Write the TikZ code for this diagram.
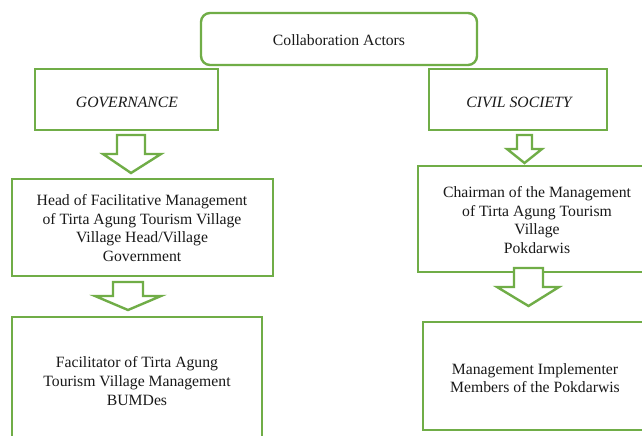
\documentclass[tikz,border=0pt]{standalone}
\usepackage{fontspec}
\setmainfont{Liberation Serif}
\definecolor{boxgreen}{HTML}{70AD47}
\tikzset{
  box/.style={draw=boxgreen, line width=2.4pt, fill=white, inner sep=0pt},
  txt/.style={align=center, font=\fontsize{15.7}{18.6}\selectfont, inner sep=0pt, text=black!90},
  itxt/.style={txt, font=\fontsize{15.7}{18.6}\selectfont\itshape},
  blockarrow/.style={draw=boxgreen, line width=2.4pt, fill=white, line join=miter}
}
\begin{document}
\begin{tikzpicture}[x=1pt,y=-1pt]
\useasboundingbox (0,0) rectangle (642,436);
\fill[white] (0,0) rectangle (642,436);
\begin{scope}
\clip (0,0) rectangle (642,436);
% boxes
\node[box, rounded corners=9pt, minimum width=276pt, minimum height=52pt] (top) at (339,39) {};
\node[box, minimum width=183pt, minimum height=61pt] (gov) at (126.5,99.5) {};
\node[box, minimum width=178pt, minimum height=61pt] (civ) at (518,99.5) {};
\node[box, minimum width=261pt, minimum height=97pt] (head) at (142.5,227.5) {};
\node[box, minimum width=250pt, minimum height=150pt] (fac) at (137,392) {};
\node[box, minimum width=250pt, minimum height=106pt] (chair) at (543,219) {};
\node[box, minimum width=250pt, minimum height=108pt] (mgmt) at (548,376) {};
% texts
\node[txt] (topt) at (339,40) {Collaboration Actors};
\node[itxt] (govt) at (127,102) {GOVERNANCE};
\node[itxt] (civt) at (519,102) {CIVIL SOCIETY};
\node[txt] (headt) at (142,228) {Head of Facilitative Management\\of Tirta Agung Tourism Village\\Village Head/Village\\Government};
\node[txt] (fact) at (137,381) {Facilitator of Tirta Agung\\Tourism Village Management\\BUMDes};
\node[txt] (chairt) at (537,220) {Chairman of the Management\\of Tirta Agung Tourism\\Village\\Pokdarwis};
\node[txt] (mgmtt) at (535,378) {Management Implementer\\Members of the Pokdarwis};
% hollow block arrows
\draw[blockarrow] (117,135) -- (145,135) -- (145,154) -- (161,154) -- (131,173) -- (103,154) -- (117,154) -- cycle;
\draw[blockarrow] (517,135) -- (532,135) -- (532,149) -- (542,149) -- (524.5,163) -- (507,149) -- (517,149) -- cycle;
\draw[blockarrow] (113,282) -- (143,282) -- (143,296) -- (161,296) -- (128,310) -- (95,296) -- (113,296) -- cycle;
\draw[blockarrow] (514,268) -- (543,268) -- (543,287) -- (559,287) -- (528.5,306) -- (497,287) -- (514,287) -- cycle;
\end{scope}
\end{tikzpicture}
\end{document}
